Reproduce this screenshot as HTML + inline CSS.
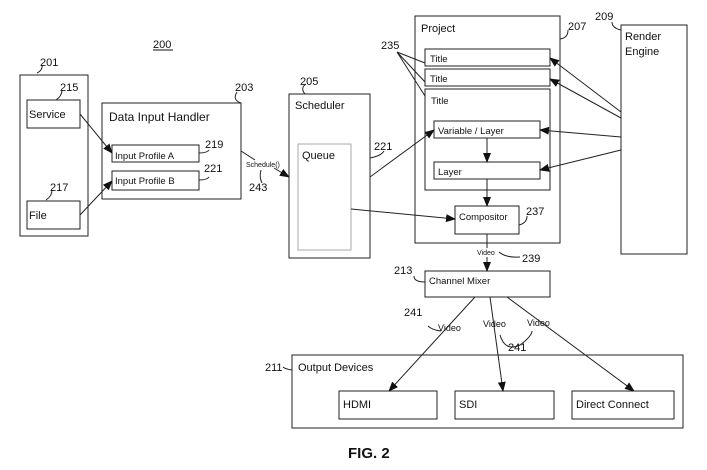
<!DOCTYPE html><html><head><style>body{margin:0;background:#fff}svg{display:block}text{font-family:"Liberation Sans",sans-serif;fill:#111}</style></head><body>
<svg width="707" height="470" viewBox="0 0 707 470" xmlns="http://www.w3.org/2000/svg">
<defs><marker id="a" markerWidth="10" markerHeight="8" refX="9" refY="4" orient="auto" markerUnits="userSpaceOnUse"><path d="M0,0 L10,4 L0,8 z" fill="#111"/></marker></defs>
<g fill="none" stroke="#222" stroke-width="1">
<rect x="20" y="75" width="68" height="161"/>
<rect x="27" y="100" width="53" height="28"/>
<rect x="27" y="201" width="53" height="28"/>
<rect x="102" y="103" width="139" height="96"/>
<rect x="112" y="145" width="87" height="17"/>
<rect x="112" y="171" width="87" height="19"/>
<rect x="289" y="94" width="81" height="164"/>
<rect x="298" y="144" width="53" height="106" stroke="#aaa"/>
<rect x="415" y="16" width="145" height="227"/>
<rect x="425" y="49" width="125" height="17"/>
<rect x="425" y="69" width="125" height="17"/>
<rect x="425" y="89" width="125" height="101"/>
<rect x="434" y="121" width="106" height="17"/>
<rect x="434" y="162" width="106" height="17"/>
<rect x="455" y="206" width="64" height="28"/>
<rect x="621" y="25" width="66" height="229"/>
<rect x="425" y="271" width="125" height="26"/>
<rect x="292" y="355" width="391" height="73"/>
<rect x="339" y="391" width="98" height="28"/>
<rect x="455" y="391" width="99" height="28"/>
<rect x="572" y="391" width="102" height="28"/>
<line x1="80" y1="114" x2="112" y2="153" marker-end="url(#a)"/>
<line x1="80" y1="215" x2="112" y2="181" marker-end="url(#a)"/>
<path d="M241 151 L255 160"/>
<line x1="274" y1="168" x2="289" y2="177" marker-end="url(#a)"/>
<line x1="370" y1="177" x2="434" y2="130" marker-end="url(#a)"/>
<line x1="351" y1="209" x2="455" y2="219" marker-end="url(#a)"/>
<line x1="487" y1="138" x2="487" y2="162" marker-end="url(#a)"/>
<line x1="487" y1="179" x2="487" y2="206" marker-end="url(#a)"/>
<line x1="487" y1="234" x2="487" y2="248"/>
<line x1="487" y1="257" x2="487" y2="271" marker-end="url(#a)"/>
<line x1="621" y1="112" x2="550" y2="58" marker-end="url(#a)"/>
<line x1="621" y1="118" x2="550" y2="79" marker-end="url(#a)"/>
<line x1="621" y1="137" x2="540" y2="130" marker-end="url(#a)"/>
<line x1="621" y1="150" x2="540" y2="170" marker-end="url(#a)"/>
<line x1="475" y1="297" x2="389" y2="391" marker-end="url(#a)"/>
<line x1="490" y1="297" x2="503" y2="391" marker-end="url(#a)"/>
<line x1="507" y1="297" x2="634" y2="391" marker-end="url(#a)"/>
<path d="M397 52 L425 63 M397 52 L425 82 M397 52 L425 96"/>
<path d="M37 73 Q43 70 42 65 M56 100 Q62 96 62 90 M46 200 Q52 196 52 190 M241 103 Q232 100 237 92 M305 94 Q300 88 306 84 M560 39 Q568 38 568 30 M621 30 Q612 28 612 22 M199 153 Q207 153 209 150 M199 180 Q207 180 209 177 M519 225 Q527 223 527 216 M370 158 Q381 156 384 151 M425 282 Q414 282 414 276 M261 170 Q259 177 262 183 M499 252 Q506 258 520 257 M428 326 Q432 330 441 331 M500 335 Q505 352 520 345 Q532 336 532 331 M292 370 Q285 369 283 367"/>
</g>
<g font-size="11"><text x="29" y="118">Service</text><text x="29" y="219">File</text><text x="109" y="121" font-size="12">Data Input Handler</text><text x="115" y="159" font-size="9.5">Input Profile A</text><text x="115" y="184" font-size="9.5">Input Profile B</text><text x="295" y="109">Scheduler</text><text x="302" y="159">Queue</text><text x="421" y="32">Project</text><text x="430" y="62" font-size="9.5">Title</text><text x="430" y="82" font-size="9.5">Title</text><text x="431" y="104" font-size="9.5">Title</text><text x="438" y="134" font-size="9.5">Variable / Layer</text><text x="438" y="175" font-size="9.5">Layer</text><text x="459" y="220" font-size="9.5">Compositor</text><text x="625" y="40">Render</text><text x="625" y="55">Engine</text><text x="429" y="284" font-size="9.5">Channel Mixer</text><text x="298" y="371">Output Devices</text><text x="343" y="408">HDMI</text><text x="459" y="408">SDI</text><text x="576" y="408">Direct Connect</text></g>
<g font-size="7"><text x="246" y="167">Schedule()</text><text x="477" y="255">Video</text></g>
<g font-size="9"><text x="438" y="331">Video</text><text x="483" y="327">Video</text><text x="527" y="326">Video</text></g>
<g font-size="11"><text x="153" y="48">200</text><text x="40" y="66">201</text><text x="60" y="91">215</text><text x="50" y="191">217</text><text x="235" y="91">203</text><text x="205" y="148">219</text><text x="204" y="172">221</text><text x="249" y="191">243</text><text x="300" y="85">205</text><text x="381" y="49">235</text><text x="568" y="30">207</text><text x="595" y="20">209</text><text x="374" y="150">221</text><text x="526" y="215">237</text><text x="522" y="262">239</text><text x="394" y="274">213</text><text x="404" y="316">241</text><text x="508" y="351">241</text><text x="265" y="371">211</text></g>
<line x1="153" y1="50" x2="173" y2="50" stroke="#111"/>
<text x="348" y="458" font-size="15" font-weight="bold">FIG. 2</text>
</svg></body></html>
